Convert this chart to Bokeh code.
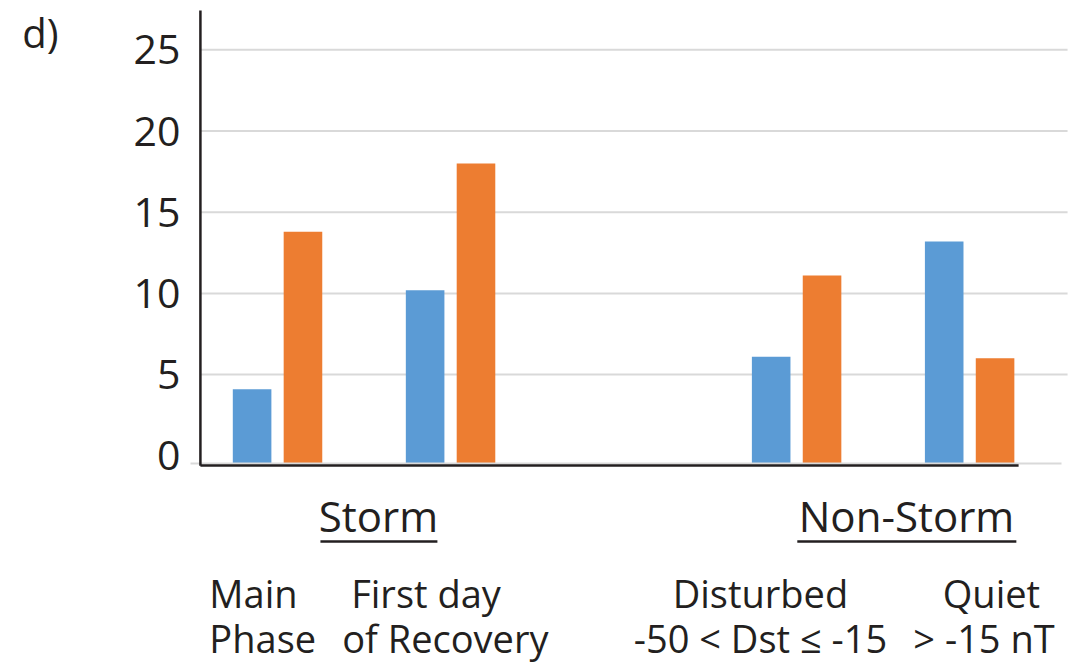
from bokeh.plotting import figure
from bokeh.models import Range1d, FixedTicker, LinearAxis, ColumnDataSource
from bokeh.core.properties import value
from bokeh.embed import file_html
from bokeh.resources import INLINE

# Phases on the x axis (slot 2 left empty to split Storm / Non-Storm)
phase_pos = [0, 1, 3, 4]
blue_vals = [4.1, 10.2, 6.1, 13.2]
orange_vals = [13.8, 18.0, 11.1, 6.0]
y_ticks = [0, 5, 10, 15, 20, 25]
grid_ticks = [5, 10, 15, 20, 25]

group_titles = ["Storm", "Non-Storm"]
label_line1 = ["Main", "First day", "Disturbed", "Quiet"]
label_line2 = ["Phase", "of Recovery", "-50 < Dst \u2264 -15", "> -15 nT"]

FONT = "Open Sans"
INK = "#231F20"
BLUE = "#5B9BD5"
ORANGE = "#ED7D31"
GRID = "#D9D9D9"

BASE = -0.5          # bar baseline, sits on the drawn x-axis line
X_LEFT = -0.503
X_AXIS = -0.4457
X_GRID_END = 4.566
OFF = 0.147
BAR_W = 0.223

p = figure(width=1088, height=666, output_backend="svg", toolbar_location=None,
           x_range=Range1d(X_LEFT, 4.687), y_range=Range1d(-12.98, 28.04),
           min_border_left=190, min_border_right=0, min_border_top=0, min_border_bottom=0)
p.outline_line_color = None
p.xgrid.visible = False
p.ygrid.visible = False
p.xaxis.visible = False
p.background_fill_color = "white"
p.border_fill_color = "white"

ya = p.yaxis[0]
ya.ticker = FixedTicker(ticks=y_ticks)
ya.axis_line_color = None
ya.major_tick_line_color = None
ya.minor_tick_line_color = None
ya.major_tick_out = 0
ya.major_tick_in = 0
ya.major_label_text_font = FONT
ya.major_label_text_font_size = "41px"
ya.major_label_text_color = INK
ya.major_label_standoff = 10

# panel letter, carried by an outer label-only axis
panel = LinearAxis(ticker=FixedTicker(ticks=[26.6]), major_label_overrides={26.6: "d)"},
                   axis_line_color=None, major_tick_line_color=None,
                   minor_tick_line_color=None, major_tick_out=0, major_tick_in=0,
                   major_label_text_font=FONT, major_label_text_font_size="40px",
                   major_label_text_color=INK, major_label_standoff=72)
p.add_layout(panel, "left")

# horizontal gridlines
p.segment(x0=[X_AXIS] * len(grid_ticks), y0=grid_ticks,
          x1=[X_GRID_END] * len(grid_ticks), y1=grid_ticks,
          line_color=GRID, line_width=2)

# bars
src_b = ColumnDataSource(dict(x=[v - OFF for v in phase_pos], top=blue_vals))
src_o = ColumnDataSource(dict(x=[v + OFF for v in phase_pos], top=orange_vals))
p.vbar(x="x", top="top", bottom=BASE, width=BAR_W, source=src_b,
       fill_color=BLUE, line_color=None)
p.vbar(x="x", top="top", bottom=BASE, width=BAR_W, source=src_o,
       fill_color=ORANGE, line_color=None)

# axis lines
p.segment(x0=[-0.509], y0=[-0.48], x1=[4.531], y1=[-0.48], line_color=GRID, line_width=2)
p.segment(x0=[X_AXIS], y0=[-0.6], x1=[4.283], y1=[-0.6], line_color=INK, line_width=2.5)
p.segment(x0=[X_AXIS], y0=[-0.62], x1=[X_AXIS], y1=[27.42], line_color=INK, line_width=2.5)

# group headers with underline
p.text(x=[0.583, 3.635], y=[-3.66, -3.66], text=group_titles,
       text_font=value(FONT), text_font_size="42px", text_color=INK,
       text_align="center", text_baseline="alphabetic")
p.segment(x0=[0.248, 3.004], y0=[-5.28, -5.28], x1=[0.924, 4.270], y1=[-5.28, -5.28],
          line_color=INK, line_width=2.5)

# phase labels
p.text(x=[-0.394], y=[-8.46], text=label_line1[:1], text_font=value(FONT),
       text_font_size="38px", text_color=INK, text_align="left", text_baseline="alphabetic")
p.text(x=[-0.394], y=[-11.2], text=label_line2[:1], text_font=value(FONT),
       text_font_size="38px", text_color=INK, text_align="left", text_baseline="alphabetic")
p.text(x=[0.858, 2.791, 4.126], y=[-8.46] * 3, text=label_line1[1:], text_font=value(FONT),
       text_font_size="38px", text_color=INK, text_align="center", text_baseline="alphabetic")
p.text(x=[0.970, 2.791, 4.083], y=[-11.2] * 3, text=label_line2[1:], text_font=value(FONT),
       text_font_size="38px", text_color=INK, text_align="center", text_baseline="alphabetic")

open("out.html", "w").write(file_html(p, INLINE))
